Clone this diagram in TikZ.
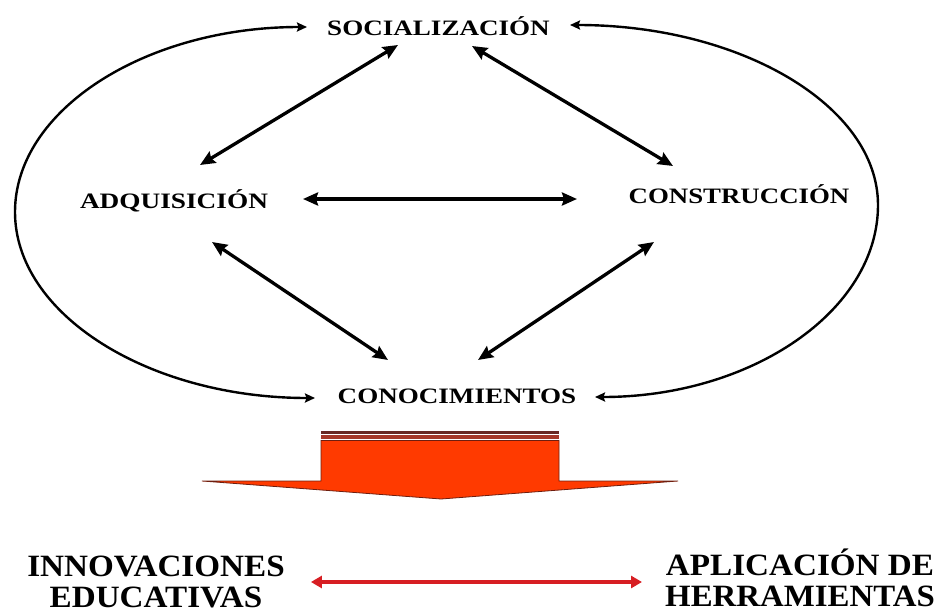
\documentclass[tikz,border=0pt]{standalone}
\usepackage{fontspec}
\setmainfont{Liberation Serif}
\usetikzlibrary{arrows.meta}
\definecolor{blockred}{RGB}{255,58,0}
\definecolor{blockedge}{RGB}{110,30,15}
\definecolor{bandA}{RGB}{105,40,35}
\definecolor{bandB}{RGB}{165,55,40}
\definecolor{linkred}{RGB}{215,30,35}
\begin{document}
\begin{tikzpicture}[x=1pt,y=-1pt,
  lbl/.style={font=\fontsize{22}{26}\selectfont\bfseries, inner sep=0pt, anchor=base},
  big/.style={font=\fontsize{31}{31}\selectfont\bfseries, inner sep=0pt, align=center},
  dbl/.style={line width=3.3pt, {Stealth[length=15pt,width=13pt,inset=2pt]}-{Stealth[length=15pt,width=13pt,inset=2pt]}},
  ringarc/.style={line width=2.4pt, {Stealth[length=10pt,width=9pt,inset=1.5pt]}-{Stealth[length=10pt,width=9pt,inset=1.5pt]}},
  redlink/.style={linkred, line width=3.6pt, {Triangle[length=11pt,width=12pt]}-{Triangle[length=11pt,width=12pt]}}
]
\useasboundingbox (0,0) rectangle (943,616);

% labels
\node[lbl] (soc) at (438.5,35) {\scalebox{1.23}[1]{SOCIALIZACIÓN}};
\node[lbl] (adq) at (174,208) {\scalebox{1.24}[1]{ADQUISICIÓN}};
\node[lbl] (con) at (739,203) {\scalebox{1.22}[1]{CONSTRUCCIÓN}};
\node[lbl] (cono) at (457,403) {\scalebox{1.23}[1]{CONOCIMIENTOS}};

% outer ring arcs
\coordinate (lt) at (307,27);
\coordinate (lm) at (15,212);
\coordinate (lb) at (315,398);
\coordinate (rt) at (570,25);
\coordinate (rm) at (878,205);
\coordinate (rb) at (595,397);
\draw[ringarc] (lt) .. controls (145.7,27) and (15,109.8) .. (lm)
  .. controls (15,314.7) and (149.3,398) .. (lb);
\draw[ringarc] (rt) .. controls (740,25) and (878,105.6) .. (rm)
  .. controls (878,311) and (751.3,397) .. (rb);

% inner arrows
\coordinate (sa) at (398,45);
\coordinate (as) at (200,165);
\coordinate (sc) at (472,46);
\coordinate (cs) at (673,166);
\coordinate (ac) at (303,199);
\coordinate (ca) at (577,199);
\coordinate (ak) at (212,242);
\coordinate (ka) at (388,360);
\coordinate (ck) at (654,242);
\coordinate (kc) at (478,360);
\draw[dbl] (sa) -- (as);
\draw[dbl] (sc) -- (cs);
\draw[dbl] (ac) -- (ca);
\draw[dbl] (ak) -- (ka);
\draw[dbl] (ck) -- (kc);

% block arrow
\fill[bandA] (321,430.5) rectangle (559,433.5);
\fill[bandB] (321,435) rectangle (559,439);
\filldraw[fill=blockred, draw=blockedge, line width=0.8pt]
  (321,440.5) -- (559,440.5) -- (559,481) -- (678,481) -- (441,499)
  -- (202,481) -- (321,481) -- cycle;

% bottom texts
\node[big] (inn) at (156,582) {\scalebox{1.07}[1]{INNOVACIONES}\\\scalebox{1.07}[1]{EDUCATIVAS}};
\node[big] (apl) at (800,578) {\scalebox{1.07}[1]{APLICACIÓN DE}\\\scalebox{1.06}[1]{HERRAMIENTAS}};
\draw[redlink] ([xshift=26pt]inn.east) -- ([xshift=-23pt]inn.east -| apl.west);
\end{tikzpicture}
\end{document}
